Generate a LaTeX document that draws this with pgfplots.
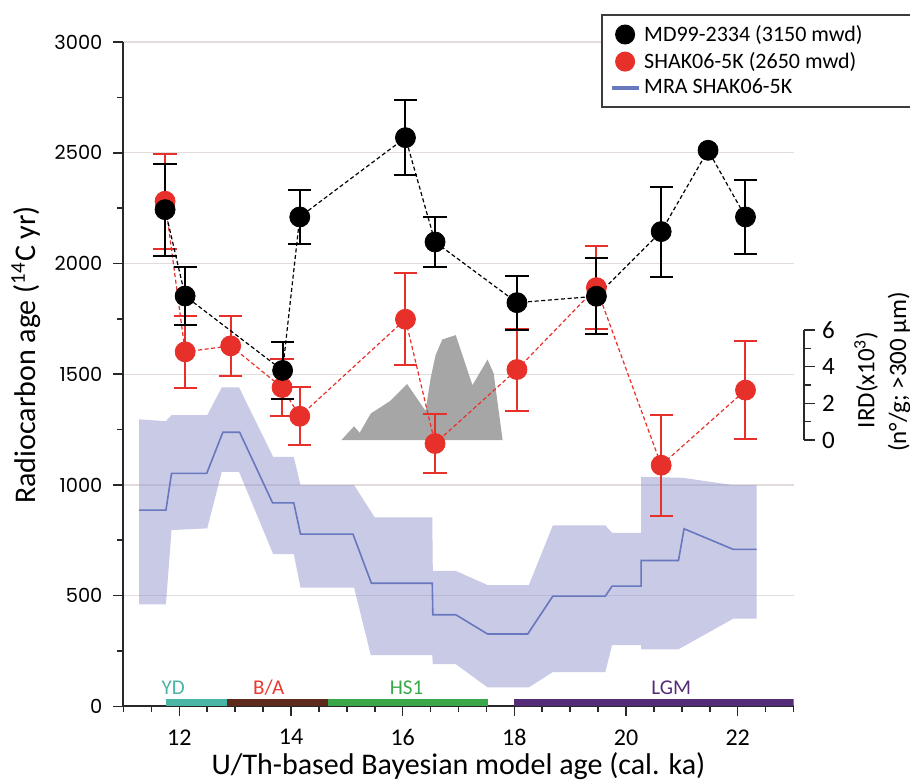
\documentclass[border=0pt]{standalone}
\usepackage{fontspec}
\setmainfont{Carlito}
\newfontfamily\ytfont{Poppins}
\usepackage{pgfplots}
\usepackage{pgfplotstable}
\pgfplotsset{compat=1.18}
\definecolor{axisgray}{RGB}{40,40,40}
\definecolor{gridc}{RGB}{228,220,220}
\definecolor{bandc}{RGB}{145,150,205}
\definecolor{mraline}{RGB}{105,120,190}
\definecolor{irdgray}{RGB}{166,166,166}
\definecolor{redc}{RGB}{232,48,42}
\definecolor{ydc}{RGB}{74,180,165}
\definecolor{bac}{RGB}{94,42,28}
\definecolor{batext}{RGB}{232,57,47}
\definecolor{hsc}{RGB}{58,168,72}
\definecolor{lgmc}{RGB}{84,44,120}
\definecolor{legdraw}{RGB}{60,60,60}

\pgfplotstableread{
x y e
11.745 2243 208
12.104 1853 130
13.85 1517 128
14.157 2210 122
16.05 2568 170
16.58 2097 115
18.047 1823 122
19.47 1852 172
20.63 2144 203
21.47 2511 0
22.14 2210 168
}\mdtab

\pgfplotstableread{
x y e
11.745 2243 208
12.104 1853 130
13.85 1517 128
14.157 2210 122
16.05 2568 170
16.58 2097 115
18.047 1823 122
19.47 1852 172
20.63 2144 203
22.14 2210 168
}\mderr

\pgfplotstableread{
x y e
11.745 2281 215
12.104 1601 163
12.92 1628 137
13.84 1440 130
14.157 1310 130
16.05 1748 208
16.58 1187 133
18.047 1521 185
19.47 1891 188
20.63 1089 228
22.14 1428 221
}\shaktab

\pgfplotstableread{
x y
11.28 1296
11.76 1288
11.86 1315
12.50 1315
12.76 1440
13.07 1440
13.68 1127
14.05 1127
14.17 999
15.13 999
15.50 853
16.53 853
16.54 612
16.95 612
17.52 548
18.26 548
18.69 817
19.63 817
19.75 784
20.27 784
20.27 1037
21.02 1032
21.92 999
22.34 999
22.34 396
21.92 396
20.94 258
20.27 258
20.27 277
19.75 277
19.63 155
18.69 155
18.26 86
17.52 86
16.95 191
16.54 191
16.53 231
15.43 231
15.13 536
14.17 536
14.05 688
13.68 688
13.07 1059
12.76 1059
12.50 804
11.86 796
11.76 461
11.28 461
}\bandtab

\pgfplotstableread{
x y
11.28 886
11.76 886
11.86 1052
12.49 1052
12.78 1238
13.08 1238
13.67 919
14.05 919
14.17 778
15.11 778
15.44 556
16.53 556
16.54 414
16.95 414
17.52 327
18.24 327
18.69 498
19.63 498
19.75 543
20.27 543
20.27 659
20.94 659
21.04 802
21.92 709
22.34 709
}\mratab

\pgfplotstableread{
x ird
14.90 0
15.13 0.76
15.23 0.40
15.43 1.46
15.57 1.73
15.78 2.15
16.08 3.06
16.41 1.60
16.50 3.37
16.59 4.64
16.71 5.49
16.95 5.73
17.25 3.00
17.52 4.40
17.63 3.64
17.79 0
}\irdtab

\begin{document}
\begin{tikzpicture}
\begin{axis}[
  scale only axis, width=335pt, height=332.2pt,
  xmin=11, xmax=23, ymin=0, ymax=3000,
  axis x line*=bottom, axis y line*=left,
  axis line style={-, line width=1pt, color=axisgray},
  xtick={12,14,...,22}, minor xtick={11,11.5,...,23},
  ytick={0,500,...,3000}, minor ytick={250,750,...,2750},
  tick align=outside,
  major tick length=5pt, minor tick length=3pt,
  tick style={line width=0.8pt, color=axisgray},
  ymajorgrids, major grid style={line width=0.6pt, color=gridc},
  /pgf/number format/assume math mode=true,
  /pgf/number format/1000 sep={},
  xticklabel style={font=\fontsize{12}{12}\selectfont, yshift=-3pt},
  yticklabel style={font=\ytfont\fontsize{9.7}{10}\selectfont, xshift=-2pt},
  xlabel={U/Th-based Bayesian model age (cal. ka)},
  ylabel={Radiocarbon age (\textsuperscript{14}C yr)},
  label style={font=\fontsize{15}{15}\selectfont},
  xlabel style={at={(axis description cs:0.5,-0.0897)}, anchor=center},
  ylabel style={at={(axis description cs:-0.1455,0.529)}, anchor=center},
  legend style={at={(axis description cs:0.7127,1.0422)}, anchor=north west,
    draw=legdraw, line width=1pt, font=\fontsize{11}{12}\selectfont,
    inner xsep=4pt, inner ysep=3pt, row sep=0pt, cells={anchor=west}},
  legend image code/.code={\draw[mark repeat=2,mark phase=2,#1] plot coordinates {(0pt,0pt) (6.75pt,0pt) (13.5pt,0pt)};},
]
\addlegendimage{only marks, mark=*, mark size=4.5pt, color=black}
\addlegendentry{MD99-2334 (3150 mwd)\hspace*{30pt}}
\addlegendimage{only marks, mark=*, mark size=4.5pt, color=redc}
\addlegendentry{SHAK06-5K (2650 mwd)}
\addlegendimage{mraline, line width=1.6pt}
\addlegendentry{MRA SHAK06-5K}

% MRA band and line
\addplot[draw=none, fill=bandc, fill opacity=0.5, forget plot] table[x=x,y=y] {\bandtab};
\addplot[mraline, line width=0.8pt, forget plot] table[x=x,y=y] {\mratab};

% IRD area
\addplot[draw=none, fill=irdgray, forget plot] table[x=x, y expr={1202+82.8*\thisrow{ird}}] {\irdtab};

% period bars
\addplot[ydc, line width=3.5pt, forget plot] coordinates {(11.76,16) (12.86,16)};
\addplot[bac, line width=3.5pt, forget plot] coordinates {(12.86,16) (14.66,16)};
\addplot[hsc, line width=3.5pt, forget plot] coordinates {(14.66,16) (17.52,16)};
\addplot[lgmc, line width=3.5pt, forget plot] coordinates {(17.99,16) (23,16)};

% SHAK06-5K
\addplot[redc, line width=0.6pt, dash pattern=on 2pt off 1.3pt, forget plot] table[x=x,y=y] {\shaktab};
\addplot[redc, only marks, mark=none, forget plot,
  error bars/.cd, y dir=both, y explicit,
  error bar style={line width=1pt, solid},
  error mark options={rotate=90, mark size=5.8pt, line width=1pt}]
  table[x=x,y=y,y error=e] {\shaktab};
\addplot[redc, only marks, mark=*, mark size=5pt, forget plot] table[x=x,y=y] {\shaktab};

% MD99-2334
\addplot[black, line width=0.6pt, dash pattern=on 2pt off 1.3pt, forget plot] table[x=x,y=y] {\mdtab};
\addplot[black, only marks, mark=none, forget plot,
  error bars/.cd, y dir=both, y explicit,
  error bar style={line width=1pt, solid},
  error mark options={rotate=90, mark size=5.8pt, line width=1pt}]
  table[x=x,y=y,y error=e] {\mderr};
\addplot[black, only marks, mark=*, mark size=5pt, forget plot] table[x=x,y=y] {\mdtab};

\node[font=\fontsize{10.5}{11}\selectfont, color=ydc] at (axis cs:11.89,86) {YD};
\node[font=\fontsize{10.5}{11}\selectfont, color=batext] at (axis cs:13.60,86) {B/A};
\node[font=\fontsize{10.5}{11}\selectfont, color=hsc] at (axis cs:16.07,86) {HS1};
\node[font=\fontsize{10.5}{11}\selectfont, color=lgmc] at (axis cs:20.81,86) {LGM};
\end{axis}

\begin{axis}[
  scale only axis, width=8pt, height=55pt,
  at={(340.25pt,133.2pt)}, anchor=south east,
  xmin=0, xmax=1, ymin=0, ymax=6,
  axis x line=none, axis y line*=right,
  axis line style={-, line width=1pt, color=axisgray},
  ytick={0,2,4,6}, minor ytick={1,3,5},
  tick align=outside, major tick length=5.5pt, minor tick length=3.5pt,
  tick style={line width=0.8pt, color=axisgray},
  /pgf/number format/assume math mode=true,
  yticklabel style={font=\fontsize{12.5}{13}\selectfont},
]
\end{axis}

\node[rotate=90, font=\fontsize{12.5}{13}\selectfont] at (371.25pt,163.2pt) {IRD(x10\textsuperscript{3})};
\node[rotate=90, font=\fontsize{12.5}{13}\selectfont] at (387.75pt,167.2pt) {(n°/g; >300 µm)};

\pgfresetboundingbox
\path[use as bounding box] (-61.75pt,-37.3pt) rectangle (393.25pt,353.2pt);
\end{tikzpicture}
\end{document}
